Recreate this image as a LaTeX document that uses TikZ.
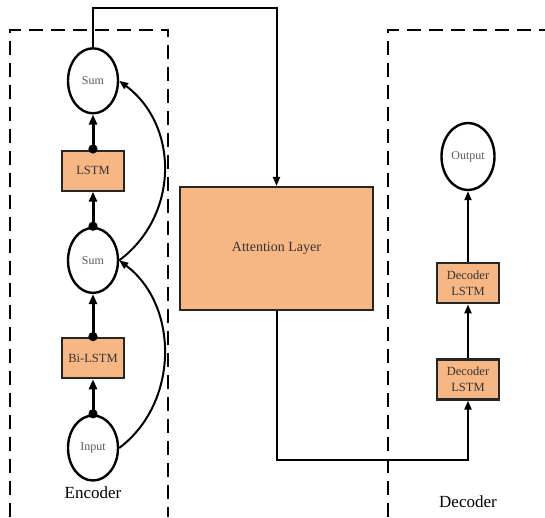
\documentclass[tikz,border=0pt]{standalone}
\usepackage{fontspec}
\setmainfont{Liberation Serif}
\usetikzlibrary{shapes.geometric, arrows.meta, positioning}
\definecolor{lstmorange}{HTML}{F7B784}

\begin{document}
\begin{tikzpicture}[
  x=1pt, y=-1pt,
  node distance = 35pt,
  circ/.style = {
    draw, line width=2.4pt, ellipse, minimum width=50pt, minimum height=65pt,
    inner sep=0pt, font=\fontsize{12}{14}\selectfont, text=black!65
  },
  orange box/.style = {
    draw=black!85, line width=2.2pt, fill=lstmorange, minimum width=62pt,
    minimum height=40pt, inner sep=2pt, align=center,
    font=\fontsize{12.5}{16}\selectfont, text=black!80
  },
  arr/.style = {-{Triangle[length=9pt,width=7pt]}, line width=2pt},
  enc arr/.style = {{Circle[length=9pt]}-{Triangle[length=10pt,width=8pt]},
    line width=3pt, shorten <=-4pt},
  frame/.style = {dash pattern=on 14pt off 8pt, line width=2.2pt},
  label/.style = {font=\fontsize{17}{19}\selectfont},
]
\useasboundingbox (0,0) rectangle (545,517);

% dashed frames
\draw[frame] (10,517) -- (10,30) -- (168,30) -- (168,517);
\draw[frame] (388,517) -- (388,30) -- (545,30);

% encoder
\node[circ]       (in-e)   at (93,448)              {Input};
\node[orange box] (bilstm) [above=of in-e]          {Bi-LSTM};
\node[circ]       (sum-0)  [above=43pt of bilstm]   {Sum};
\node[orange box] (lstm-e) [above=of sum-0]         {LSTM};
\node[circ]       (sum-1)  [above=of lstm-e]        {Sum};

\draw[enc arr] (in-e)   -- (bilstm);
\draw[enc arr] (bilstm) -- (sum-0);
\draw[enc arr] (sum-0)  -- (lstm-e);
\draw[enc arr] (lstm-e) -- (sum-1);

\draw[arr] (in-e.east)  .. controls +(60,-45) and +(60,45) .. (sum-0.east);
\draw[arr] (sum-0.east) .. controls +(60,-45) and +(60,45) .. (sum-1.east);

\node[label, below=1pt of in-e] {Encoder};

% attention
\node[orange box, minimum width=193pt, minimum height=123pt,
      font=\fontsize{14}{16}\selectfont] (att) at (276.5,248.5) {Attention Layer};

% decoder
\node[orange box] (dec-1) at (468,379.5)        {Decoder\\LSTM};
\node[orange box] (dec-2) [above=54pt of dec-1] {Decoder\\LSTM};
\node[circ, minimum width=53pt, minimum height=67pt] (out-d) [above=71pt of dec-2] {Output};

\draw[arr] (dec-1) -- (dec-2);
\draw[arr] (dec-2) -- (out-d);

\node[label] at (468,502) {Decoder};

\coordinate (top)    at (276.5,8);
\coordinate (bottom) at (276.5,460);
\draw[arr] (sum-1.north) |- (top) -- (att.north);
\draw[arr] (att.south) -- (bottom) -| (dec-1.south);

\end{tikzpicture}
\end{document}
